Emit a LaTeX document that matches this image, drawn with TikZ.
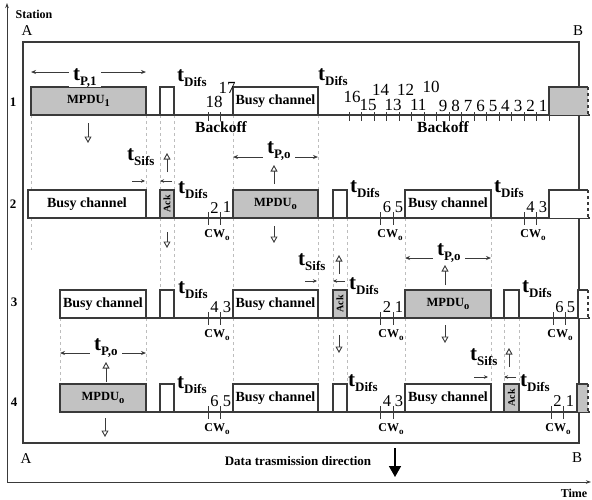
\documentclass[tikz,border=0pt]{standalone}
\usepackage{fontspec}
\usepackage{graphicx}
\setmainfont{Liberation Serif}
\usetikzlibrary{arrows.meta}
\definecolor{boxgray}{HTML}{C2C2C2}
\definecolor{ink}{HTML}{3A3A3A}
\definecolor{dsh}{HTML}{BDBDBD}
\newcommand{\tlab}[1]{{\fontsize{21}{21}\selectfont\bfseries t}\raisebox{-5pt}{\fontsize{13}{13}\selectfont\bfseries #1}}
\newcommand{\cwo}{{\fontsize{12}{12}\selectfont\bfseries CW}\raisebox{-3pt}{\fontsize{9}{9}\selectfont\bfseries o}}
\newcommand{\mpdu}[1]{{\fontsize{12.5}{12.5}\selectfont\bfseries MPDU}\raisebox{-3.5pt}{\fontsize{10.5}{10.5}\selectfont\bfseries #1}}
\newcommand{\ackt}{\rotatebox{90}{Ack}}
\begin{document}
\begin{tikzpicture}[x=1pt,y=-1pt,
  blk/.style={draw=ink, line width=1.2pt, inner sep=0pt, outer sep=0pt, anchor=south west, minimum height=28pt, font=\fontsize{14}{14}\selectfont\bfseries},
  gblk/.style={blk, fill=boxgray},
  wblk/.style={blk, fill=white},
  ackbox/.style={gblk, minimum width=14pt, font=\fontsize{10}{10}\selectfont\bfseries},
  endbox/.style={blk, draw=none},
  ha/.style={draw=ink, line width=0.9pt, -{Triangle[open, length=6.5pt, width=7pt, line width=0.9pt]}},
  sa/.style={draw=ink, line width=0.8pt, -{Stealth[length=4pt, width=3.5pt]}},
  pa/.style={draw=ink, line width=0.9pt, {Stealth[length=5pt, width=4pt]}-{Stealth[length=5pt, width=4pt]}},
  dl/.style={draw=dsh, line width=0.8pt, dash pattern=on 3pt off 3pt},
  tick/.style={draw=ink, line width=0.9pt},
  num/.style={font=\fontsize{17}{17}\selectfont, inner sep=0pt, anchor=base},
  cwn/.style={font=\fontsize{16.5}{16.5}\selectfont, inner sep=0pt, anchor=base},
  cwl/.style={inner sep=0pt, anchor=base},
  tl/.style={inner sep=0pt, anchor=base west},
  tp/.style={fill=white, inner xsep=4pt, inner ysep=0pt, anchor=base west},
  stn/.style={font=\fontsize{13}{13}\selectfont\bfseries, inner sep=0pt},
  ab/.style={font=\fontsize{15}{15}\selectfont, inner sep=0pt},
  bo/.style={font=\fontsize{15.5}{15.5}\selectfont\bfseries, inner sep=0pt},
  base/.style={draw=ink, line width=1.2pt}
]
\useasboundingbox[fill=white] (0,0) rectangle (592,499);

% axes
\coordinate (orig) at (7,482);
\coordinate (ytop) at (7,3);
\coordinate (xend) at (591,482);
\draw[ink, line width=1pt, -{Stealth[length=5pt, width=3.5pt]}] (orig) -- (ytop);
\draw[ink, line width=1pt, -{Stealth[length=5pt, width=3.5pt]}] (orig) -- (xend);
\node[font=\fontsize{12}{12}\selectfont\bfseries, inner sep=0pt] (station) at (34,14) {Station};
\node[font=\fontsize{12}{12}\selectfont\bfseries, inner sep=0pt] (time) at (574,493) {Time};

% frame
\draw[ink, line width=1.3pt] (23,42) rectangle (579,443);
\node[ab] (Atop) at (27,31) {A};
\node[ab] (Btop) at (578,31) {B};
\node[ab] (Abot) at (26,459) {A};
\node[ab] (Bbot) at (577,458) {B};

% dashed guide lines
\foreach \x in {31,146,160,174,233,318} \draw[dl] (\x,115) -- (\x,189);
\draw[dl] (31,218) -- (31,250);
\foreach \x in {160,174,233,318,333,347,405,491} \draw[dl] (\x,218) -- (\x,290);
\foreach \x in {60,146,233,318,333,347,405,491,504,519} \draw[dl] (\x,318) -- (\x,384);

% baselines
\draw[base] (31,115) -- (590,115);
\draw[base] (28,218) -- (590,218);
\draw[base] (60,318) -- (590,318);
\draw[base] (60,412) -- (590,412);

% ticks
\foreach \x in {208,220.5} \draw[tick] (\x,112) -- (\x,121);
\foreach \k in {0,...,16} \draw[tick] ({349.3+12.5*\k},112) -- ({349.3+12.5*\k},121);
\foreach \x in {208,220.5,380.5,393,524,536.5} \draw[tick] (\x,212) -- (\x,225);
\foreach \x in {208,220.5,380.5,393,553,565.5} \draw[tick] (\x,312) -- (\x,325);
\foreach \x in {208,220.5,380.5,393,551,563.5} \draw[tick] (\x,406) -- (\x,419);

% station labels
\node[stn] (st1) at (13,102) {1};
\node[stn] (st2) at (13,204) {2};
\node[stn] (st3) at (14,302) {3};
\node[stn] (st4) at (14,402) {4};

% ---------- station 1 ----------
\node[gblk, minimum width=115pt] (s1m) at (31,115) {\mpdu{1}};
\node[wblk, minimum width=14pt] (s1w) at (160,115) {};
\node[wblk, minimum width=85pt] (s1b) at (233,115) {Busy channel};
\node[endbox, fill=boxgray, minimum width=39pt] (s1e) at (549,115) {};
\draw[ink, line width=1.2pt] (s1e.north east) -- (s1e.north west) -- (s1e.south west);
\draw[ink, line width=1.2pt, dashed] (s1e.north east) -- (s1e.south east);

\draw[pa] (31,72) -- (146,72);
\node[tp] (tp1) at (69,80) {\tlab{P,1}};
\node[tl] (td1a) at (177,81) {\tlab{Difs}};
\node[tl] (td1b) at (318,80) {\tlab{Difs}};
\node[num] (n18) at (214,107) {18};
\node[num] (n17) at (227,93) {17};
\node[num] (n16) at (352,102) {16};
\node[num] (n15) at (368,110) {15};
\node[num] (n14) at (380.5,95) {14};
\node[num] (n13) at (393,110) {13};
\node[num] (n12) at (405.7,95) {12};
\node[num] (n11) at (418.3,110) {11};
\node[num] (n10) at (431,92) {10};
\node[num] (n9) at (443,111) {9};
\node[num] (n8) at (455.6,111) {8};
\node[num] (n7) at (468,111) {7};
\node[num] (n6) at (480.6,111) {6};
\node[num] (n5) at (493,111) {5};
\node[num] (n4) at (505.3,111) {4};
\node[num] (n3) at (518,111) {3};
\node[num] (n2) at (530.6,111) {2};
\node[num] (n1) at (543,111) {1};
\node[bo] (bo1) at (221,127) {Backoff};
\node[bo] (bo2) at (443,127) {Backoff};
\draw[ha] (88,123) -- (88,143);

% ---------- station 2 ----------
\node[wblk, minimum width=118pt] (s2b1) at (28,218) {Busy channel};
\node[ackbox] (s2ack) at (160,218) {\ackt};
\node[gblk, minimum width=85pt] (s2m) at (233,218) {\mpdu{o}};
\node[wblk, minimum width=14pt] (s2w) at (333,218) {};
\node[wblk, minimum width=86pt] (s2b2) at (405,218) {Busy channel};
\node[endbox, fill=white, minimum width=39pt] (s2e) at (549,218) {};
\draw[ink, line width=1.2pt] (s2e.north east) -- (s2e.north west) -- (s2e.south west);
\draw[ink, line width=1.2pt, dashed] (s2e.north east) -- (s2e.south east);

\node[tl] (ts2) at (127,160) {\tlab{Sifs}};
\draw[sa] (132,181) -- (145,181);
\draw[sa] (172,181) -- (160,181);
\draw[pa] (233,157) -- (318,157);
\node[tp] (tp2) at (263,153) {\tlab{P,o}};
\node[tl] (td2a) at (178,193) {\tlab{Difs}};
\node[tl] (td2b) at (350,192) {\tlab{Difs}};
\node[tl] (td2c) at (494,192) {\tlab{Difs}};
\node[cwn] (c2a) at (214.5,213) {2};
\node[cwn] (c2b) at (227,212) {1};
\node[cwn] (c2c) at (387,212) {6};
\node[cwn] (c2d) at (399,212) {5};
\node[cwn] (c2e) at (530.5,212) {4};
\node[cwn] (c2f) at (543,212) {3};
\node[cwl] (cw2a) at (217,237) {\cwo};
\node[cwl] (cw2b) at (390,237) {\cwo};
\node[cwl] (cw2c) at (533,237) {\cwo};
\draw[ha] (167,172) -- (167,153);
\draw[ha] (167,232) -- (167,248);
\draw[ha] (274,184) -- (274,165);
\draw[ha] (274,226) -- (274,243);

% ---------- station 3 ----------
\node[wblk, minimum width=86pt] (s3b1) at (60,318) {Busy channel};
\node[wblk, minimum width=14pt] (s3w1) at (160,318) {};
\node[wblk, minimum width=85pt] (s3b2) at (233,318) {Busy channel};
\node[ackbox] (s3ack) at (333,318) {\ackt};
\node[gblk, minimum width=86pt] (s3m) at (405,318) {\mpdu{o}};
\node[wblk, minimum width=15pt] (s3w2) at (504,318) {};
\node[endbox, fill=white, minimum width=10pt] (s3e) at (578,318) {};
\draw[ink, line width=1.2pt] (s3e.north east) -- (s3e.north west) -- (s3e.south west);
\draw[ink, line width=1.2pt, dashed] (s3e.north east) -- (s3e.south east);

\node[tl] (ts3) at (298,265) {\tlab{Sifs}};
\draw[sa] (305,281) -- (317,281);
\draw[sa] (345,281) -- (333,281);
\draw[pa] (405,258) -- (491,258);
\node[tp] (tp3) at (433,255) {\tlab{P,o}};
\node[tl] (td3a) at (178,293) {\tlab{Difs}};
\node[tl] (td3b) at (349,289) {\tlab{Difs}};
\node[tl] (td3c) at (522,292) {\tlab{Difs}};
\node[cwn] (c3a) at (214.5,312) {4};
\node[cwn] (c3b) at (227,312) {3};
\node[cwn] (c3c) at (387,312) {2};
\node[cwn] (c3d) at (399,312) {1};
\node[cwn] (c3e) at (559.5,312) {6};
\node[cwn] (c3f) at (571,312) {5};
\node[cwl] (cw3a) at (217,337) {\cwo};
\node[cwl] (cw3b) at (391,337) {\cwo};
\node[cwl] (cw3c) at (560,337) {\cwo};
\draw[ha] (339,274) -- (339,255);
\draw[ha] (339,335) -- (339,353);
\draw[ha] (445,285) -- (445,265);
\draw[ha] (445,325) -- (445,343);

% ---------- station 4 ----------
\node[gblk, minimum width=86pt] (s4m) at (60,412) {\mpdu{o}};
\node[wblk, minimum width=14pt] (s4w1) at (160,412) {};
\node[wblk, minimum width=85pt] (s4b1) at (233,412) {Busy channel};
\node[wblk, minimum width=14pt] (s4w2) at (333,412) {};
\node[wblk, minimum width=86pt] (s4b2) at (405,412) {Busy channel};
\node[ackbox, minimum width=15pt] (s4ack) at (504,412) {\ackt};
\node[endbox, fill=boxgray, minimum width=11pt] (s4e) at (577,412) {};
\draw[ink, line width=1.2pt] (s4e.north east) -- (s4e.north west) -- (s4e.south west);
\draw[ink, line width=1.2pt, dashed] (s4e.north east) -- (s4e.south east);

\node[tl] (ts4) at (470,360) {\tlab{Sifs}};
\draw[sa] (474,377) -- (488,377);
\draw[sa] (516,377) -- (504,377);
\draw[pa] (60,353) -- (146,353);
\node[tp] (tp4) at (90,350) {\tlab{P,o}};
\node[tl] (td4a) at (177,388) {\tlab{Difs}};
\node[tl] (td4b) at (348,386) {\tlab{Difs}};
\node[tl] (td4c) at (520,386) {\tlab{Difs}};
\node[cwn] (c4a) at (214.5,406) {6};
\node[cwn] (c4b) at (227,406) {5};
\node[cwn] (c4c) at (387,406) {4};
\node[cwn] (c4d) at (399,406) {3};
\node[cwn] (c4e) at (557.5,406) {2};
\node[cwn] (c4f) at (570,406) {1};
\node[cwl] (cw4a) at (217,431) {\cwo};
\node[cwl] (cw4b) at (391,431) {\cwo};
\node[cwl] (cw4c) at (558,431) {\cwo};
\draw[ha] (106,382) -- (106,362);
\draw[ha] (105,418) -- (105,437);
\draw[ha] (509,367) -- (509,348);

% transmission direction
\node[font=\fontsize{13}{13}\selectfont\bfseries, inner sep=0pt] (dtd) at (298,461) {Data trasmission direction};
\coordinate (dirtop) at (395,448);
\coordinate (dirbot) at (395,477);
\draw[black, line width=1.6pt, -{Triangle[length=11pt, width=12pt]}] (dirtop) -- (dirbot);
\end{tikzpicture}
\end{document}
